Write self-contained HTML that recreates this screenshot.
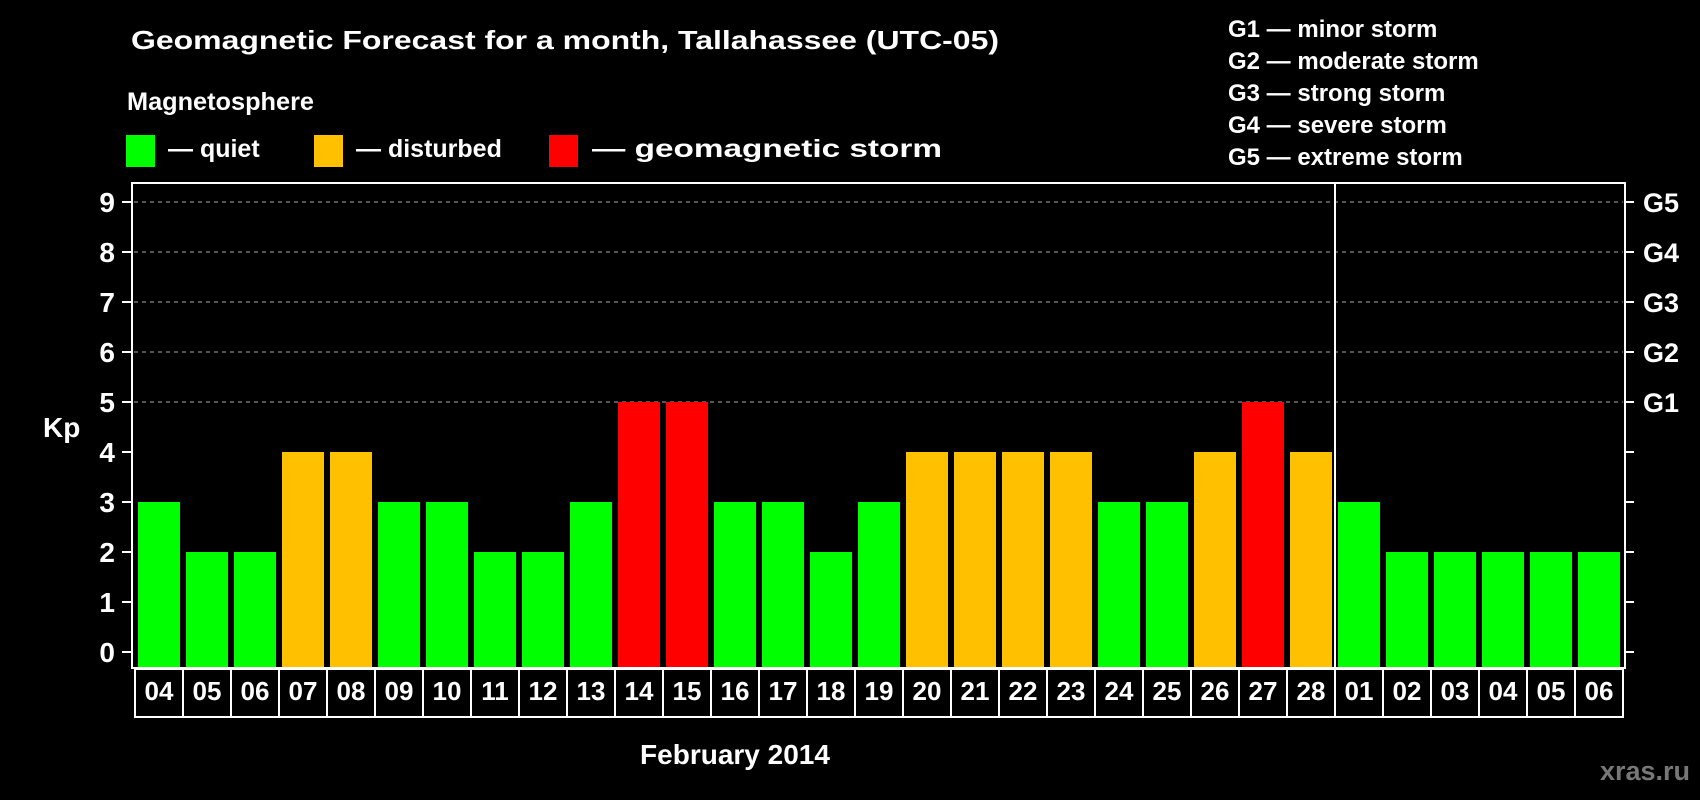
<!DOCTYPE html>
<html><head><meta charset="utf-8"><style>
html,body{margin:0;padding:0;background:#000;}
svg{display:block;font-family:"Liberation Sans",Arial,sans-serif;font-weight:bold;}
</style></head><body>
<svg id="chart" width="1700" height="800" viewBox="0 0 1700 800">
<text x="131" y="49" font-size="26" fill="#fff" textLength="868" lengthAdjust="spacingAndGlyphs">Geomagnetic Forecast for a month, Tallahassee (UTC-05)</text>
<text x="127" y="110" font-size="25" fill="#fff" textLength="187" lengthAdjust="spacingAndGlyphs">Magnetosphere</text>
<g><rect x="126" y="135" width="29" height="32" fill="#00ff00"/><text x="168" y="157" font-size="25" fill="#fff">— quiet</text></g>
<g><rect x="314" y="135" width="29" height="32" fill="#ffc000"/><text x="356" y="157" font-size="25" fill="#fff">— disturbed</text></g>
<g><rect x="549" y="135" width="29" height="32" fill="#ff0000"/><text x="592" y="157" font-size="25" fill="#fff" textLength="350" lengthAdjust="spacingAndGlyphs">— geomagnetic storm</text></g>
<g font-size="24" fill="#fff">
<text x="1228" y="37">G1 — minor storm</text>
<text x="1228" y="69">G2 — moderate storm</text>
<text x="1228" y="101">G3 — strong storm</text>
<text x="1228" y="133">G4 — severe storm</text>
<text x="1228" y="165">G5 — extreme storm</text>
</g>
<text x="43" y="437" font-size="28" fill="#fff">Kp</text>
<text x="735" y="764" font-size="28" fill="#fff" text-anchor="middle">February 2014</text>
<text x="1690" y="780" font-size="27" fill="#777" text-anchor="end">xras.ru</text>
<g id="grid"></g><g id="bars"></g><g id="axes"></g><g id="labels"></g>
</svg>
<script>
const days=["04","05","06","07","08","09","10","11","12","13","14","15","16","17","18","19","20","21","22","23","24","25","26","27","28","01","02","03","04","05","06"];
const kp=[3,2,2,4,4,3,3,2,2,3,5,5,3,3,2,3,4,4,4,4,3,3,4,5,4,3,2,2,2,2,2];
const yTicks=[0,1,2,3,4,5,6,7,8,9];
const gLabels=["G1","G2","G3","G4","G5"];
const gLevels=[5,6,7,8,9];
const monthBreak=25;
const NS="http://www.w3.org/2000/svg";
const L=132,R=1625,T=183,B=668,cellX0=135,cellW=48;
const y=v=>652-50*v;
const x=i=>cellX0+i*cellW;
function mk(tag,attrs,parent){const e=document.createElementNS(NS,tag);for(const k in attrs)e.setAttribute(k,attrs[k]);document.getElementById(parent).appendChild(e);return e;}
const color=v=>v>=5?"#ff0000":v>=4?"#ffc000":"#00ff00";
gLevels.forEach((v,i)=>{
 const g=mk("line",{x1:L+2,x2:R-2,y1:y(v),y2:y(v),stroke:"#888","stroke-width":1.2,"stroke-dasharray":"4,4"},"grid");
 
 
 const t=mk("text",{x:1643,y:y(v)+10,"font-size":27,fill:"#fff"},"axes");t.textContent=gLabels[i];
 
 
});
kp.forEach((v,i)=>{
 const r=mk("rect",{x:x(i)+3,y:y(v),width:42,height:B-y(v),fill:color(v)},"bars");
 
 
 const c=mk("rect",{x:x(i),y:B+1,width:cellW,height:48,fill:"none",stroke:"#fff","stroke-width":2},"labels");
 
 
 const t=mk("text",{x:x(i)+cellW/2,y:700,"font-size":26,fill:"#fff","text-anchor":"middle"},"labels");t.textContent=days[i];
 
 
});
yTicks.forEach(v=>{
 const tk=mk("line",{x1:122,x2:L,y1:y(v),y2:y(v),stroke:"#fff","stroke-width":2},"axes");
 
 
 const tr=mk("line",{x1:R,x2:R+9,y1:y(v),y2:y(v),stroke:"#fff","stroke-width":2},"axes");
 
 
 const t=mk("text",{x:115,y:y(v)+10,"font-size":28,fill:"#fff","text-anchor":"end"},"axes");t.textContent=v;
 
 
});
const f=mk("rect",{x:L,y:T,width:R-L,height:B-T,fill:"none",stroke:"#fff","stroke-width":2},"axes");


const sep=mk("line",{x1:x(monthBreak),x2:x(monthBreak),y1:T,y2:B+49,stroke:"#fff","stroke-width":2},"axes");


</script>
</body></html>
